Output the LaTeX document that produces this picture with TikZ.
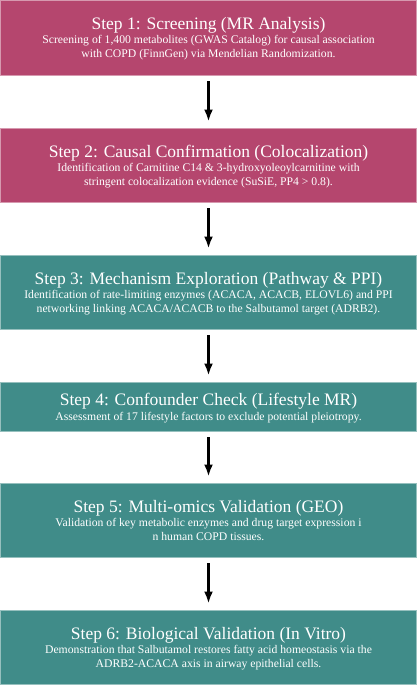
\documentclass[tikz,border=0pt]{standalone}
\usepackage{fontspec}
\setmainfont{Liberation Serif}
\usetikzlibrary{arrows.meta}
\definecolor{magbox}{RGB}{181,70,110}
\definecolor{tealbox}{RGB}{64,140,137}
\tikzset{
  stepbox/.style={rectangle, minimum width=416pt, inner sep=0pt, line width=1pt, anchor=north},
  magstep/.style={stepbox, fill=magbox, draw=magbox!55!white},
  tealstep/.style={stepbox, fill=tealbox, draw=tealbox!55!white},
  steptitle/.style={anchor=base, text=white, font=\fontsize{17.5}{20}\selectfont, inner sep=0pt},
  stepbody/.style={anchor=base, text=white, font=\fontsize{11.7}{14}\selectfont, inner sep=0pt},
  flowarrow/.style={-{Latex[length=12pt,width=9pt]}, line width=2.4pt, black}
}
\begin{document}
\begin{tikzpicture}[x=1pt,y=-1pt]
\useasboundingbox (0,0) rectangle (417,685);
% boxes
\node[magstep, minimum height=74pt] (s1) at (208.5,0.5) {};
\node[magstep, minimum height=74pt] (s2) at (208.5,127.5) {};
\node[tealstep, minimum height=74pt] (s3) at (208.5,254.5) {};
\node[tealstep, minimum height=49pt] (s4) at (208.5,381.5) {};
\node[tealstep, minimum height=74pt] (s5) at (208.5,482.5) {};
\node[tealstep, minimum height=74pt] (s6) at (208.5,609.5) {};
% texts
\node[steptitle] (t1) at (208.5,30) {Step 1: Screening (MR Analysis)};
\node[stepbody] (b1) at (208.5,44) {\parbox[t]{410pt}{\centering Screening of 1,400 metabolites (GWAS Catalog) for causal association\\ with COPD (FinnGen) via Mendelian Randomization.}};
\node[steptitle] (t2) at (208.5,157) {Step 2: Causal Confirmation (Colocalization)};
\node[stepbody] (b2) at (208.5,171) {\parbox[t]{410pt}{\centering Identification of Carnitine C14 \& 3-hydroxyoleoylcarnitine with\\ stringent colocalization evidence (SuSiE, PP4 > 0.8).}};
\node[steptitle] (t3) at (208.5,284) {Step 3: Mechanism Exploration (Pathway \& PPI)};
\node[stepbody] (b3) at (208.5,298) {\parbox[t]{410pt}{\centering Identification of rate-limiting enzymes (ACACA, ACACB, ELOVL6) and PPI\\ networking linking ACACA/ACACB to the Salbutamol target (ADRB2).}};
\node[steptitle] (t4) at (208.5,405.7) {Step 4: Confounder Check (Lifestyle MR)};
\node[stepbody] (b4) at (208.5,420) {\parbox[t]{410pt}{\centering Assessment of 17 lifestyle factors to exclude potential pleiotropy.}};
\node[steptitle] (t5) at (208.5,512) {Step 5: Multi-omics Validation (GEO)};
\node[stepbody] (b5) at (208.5,526) {\parbox[t]{410pt}{\centering Validation of key metabolic enzymes and drug target expression i\\ n human COPD tissues.}};
\node[steptitle] (t6) at (208.5,639) {Step 6: Biological Validation (In Vitro)};
\node[stepbody] (b6) at (208.5,653) {\parbox[t]{410pt}{\centering Demonstration that Salbutamol restores fatty acid homeostasis via the\\ ADRB2-ACACA axis in airway epithelial cells.}};
% arrows
\draw[flowarrow] ([yshift=-5.5pt]s1.south) -- ([yshift=6pt]s2.north);
\draw[flowarrow] ([yshift=-5.5pt]s2.south) -- ([yshift=6pt]s3.north);
\draw[flowarrow] ([yshift=-5.5pt]s3.south) -- ([yshift=6pt]s4.north);
\draw[flowarrow] ([yshift=-5.5pt]s4.south) -- ([yshift=6pt]s5.north);
\draw[flowarrow] ([yshift=-5.5pt]s5.south) -- ([yshift=6pt]s6.north);
\end{tikzpicture}
\end{document}
